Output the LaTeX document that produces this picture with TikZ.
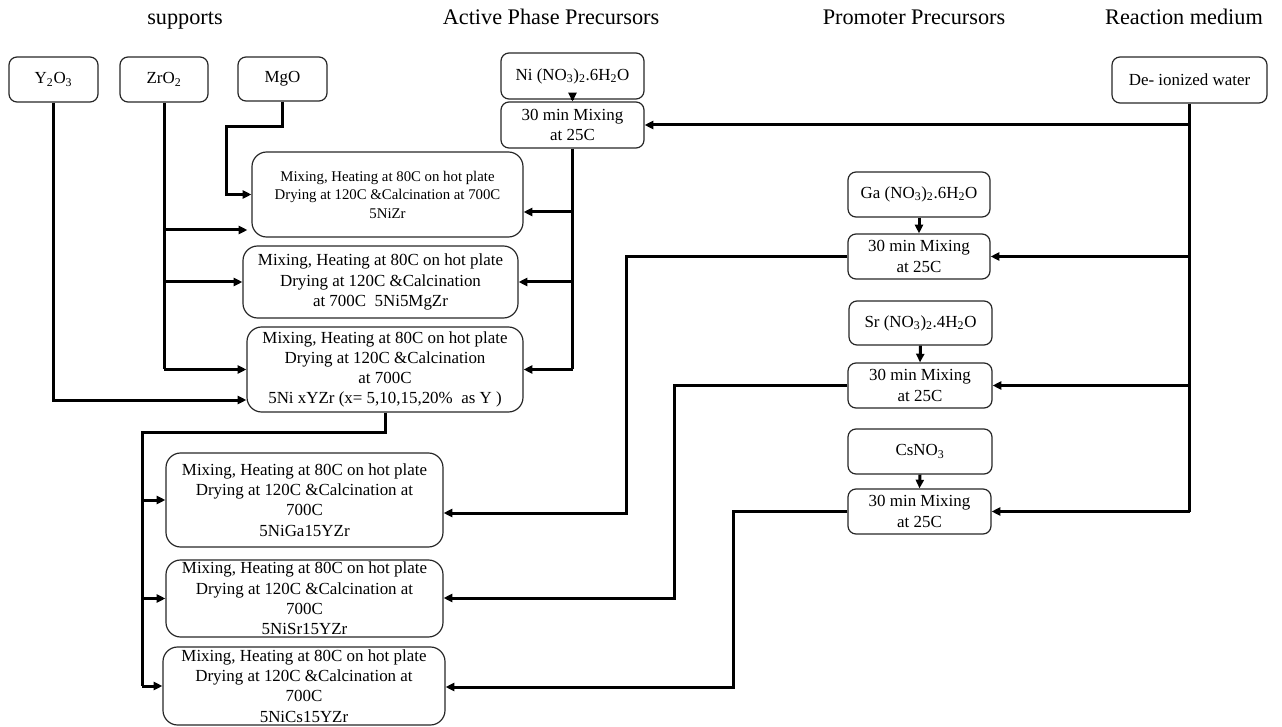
\documentclass[tikz,border=0pt]{standalone}
\usepackage{fontspec}
\setmainfont{Liberation Serif}
\usetikzlibrary{arrows.meta}
\begin{document}
\begin{tikzpicture}[x=0.75pt,y=-0.75pt,
  bx/.style 2 args={draw=black!85, line width=0.9pt, rounded corners=6pt,
    minimum width=#1*0.75pt, minimum height=#2*0.75pt, inner sep=0pt,
    align=center, font=\fontsize{12.7}{15.2}\selectfont},
  big/.style={rounded corners=11pt},
  conn/.style={line width=2.25pt},
  arr/.style={conn, -{Triangle[length=6.5pt,width=6pt]}},
  hdr/.style={font=\fontsize{16.7}{20}\selectfont, inner sep=0pt, anchor=base}
]
\useasboundingbox (0,0) rectangle (1282,727);

% headers
\node[hdr] (h1) at (185,25) {supports};
\node[hdr] (h2) at (551,25) {Active Phase Precursors};
\node[hdr] (h3) at (914,25) {Promoter Precursors};
\node[hdr] (h4) at (1184,25) {Reaction medium};

% supports
\node[bx={89}{45}] (y2o3) at (53.5,79.5) {Y\textsubscript{2}O\textsubscript{3}};
\node[bx={88}{45}] (zro2) at (164,79.5) {ZrO\textsubscript{2}};
\node[bx={89}{44}] (mgo) at (282.5,79) {MgO};

% active phase
\node[bx={143}{46}] (ni) at (572.5,76) {Ni (NO\textsubscript{3})\textsubscript{2}.6H\textsubscript{2}O};
\node[bx={143}{46}] (nimix) at (572.5,125) {30 min Mixing\\at 25C};

% promoters
\node[bx={142}{45}] (ga) at (919,194.5) {Ga (NO\textsubscript{3})\textsubscript{2}.6H\textsubscript{2}O};
\node[bx={142}{45}] (gamix) at (919,256.5) {30 min Mixing\\at 25C};
\node[bx={143}{44}] (sr) at (920.5,323) {Sr (NO\textsubscript{3})\textsubscript{2}.4H\textsubscript{2}O};
\node[bx={144}{45}] (srmix) at (920,385.5) {30 min Mixing\\at 25C};
\node[bx={144}{45}] (cs) at (920,451.5) {CsNO\textsubscript{3}};
\node[bx={143}{45}] (csmix) at (919.5,511.5) {30 min Mixing\\at 25C};

% medium
\node[bx={155}{46}] (water) at (1189.5,80) {De- ionized water};

% catalysts
\node[bx={271}{85}, big, font=\fontsize{11.1}{13.9}\selectfont] (nizr) at (387.5,194.5)
  {Mixing, Heating at 80C\ on hot plate\\Drying at 120C \&Calcination at 700C\\5NiZr};
\node[bx={275}{72}, big] (nimg) at (380.5,282)
  {Mixing, Heating at 80C\ on hot plate\\Drying at 120C \&Calcination\\at 700C\ \ 5Ni5MgZr};
\node[bx={276}{85}, big] (niy) at (385,369.5)
  {\raisebox{2.2pt}{\begin{tabular}{@{}c@{}}Mixing, Heating at 80C on hot plate\\Drying at 120C \&Calcination\\at 700C\\5Ni xYZr (x= 5,10,15,20\%\ \ as Y )\end{tabular}}};
\node[bx={277}{94}, big] (niga) at (304.5,500)
  {Mixing, Heating at 80C on hot plate\\Drying at 120C \&Calcination at\\700C\\5NiGa15YZr};
\node[bx={277}{77}, big] (nisr) at (304.5,598.5)
  {Mixing, Heating at 80C on hot plate\\Drying at 120C \&Calcination at\\700C\\5NiSr15YZr};
\node[bx={282}{78}, big] (nics) at (304,686)
  {Mixing, Heating at 80C on hot plate\\Drying at 120C \&Calcination at\\700C\\5NiCs15YZr};

% helper coordinates
\coordinate (yzr1) at (0,230);
\coordinate (yni1) at (0,212);
\coordinate (mgA) at (226,127);
\coordinate (yy) at (0,400);
\coordinate (bl) at (142,432);
\coordinate (gv) at (626,513);
\coordinate (sv) at (674,598);
\coordinate (cv) at (733,687);

% water trunk
\draw[conn] (water.south) -- (water.south |- csmix.east);
\draw[arr] (water.south |- nimix.east) -- (nimix.east);
\draw[arr] (water.south |- gamix.east) -- (gamix.east);
\draw[arr] (water.south |- srmix.east) -- (srmix.east);
\draw[arr] (water.south |- csmix.east) -- (csmix.east);

% precursor to mixing
\draw[arr] (ni.south) -- (nimix.north);
\draw[arr] (ga.south) -- (gamix.north);
\draw[arr] (sr.south) -- (srmix.north);
\draw[arr] (cs.south) -- (csmix.north);

% Ni trunk
\draw[conn] (nimix.south) -- (nimix.south |- niy.east);
\draw[arr] (nimix.south |- yni1) -- (nizr.east |- yni1);
\draw[arr] (nimix.south |- nimg.east) -- (nimg.east);
\draw[arr] (nimix.south |- niy.east) -- (niy.east);

% ZrO2 trunk
\draw[conn] (zro2.south) -- (zro2.south |- niy.west);
\draw[arr, shorten >=3pt] (zro2.south |- yzr1) -- (nizr.west |- yzr1);
\draw[arr] (zro2.south |- nimg.west) -- (nimg.west);
\draw[arr] (zro2.south |- niy.west) -- (niy.west);

% MgO
\draw[arr] (mgo.south) |- (mgA) |- (nizr.west);

% Y2O3
\draw[arr] (y2o3.south) |- (niy.west |- yy);

% xYZr to promoted catalysts
\draw[conn] (niy.south) |- (bl) -- (bl |- nics.west);
\draw[arr] (bl |- niga.west) -- (niga.west);
\draw[arr] (bl |- nisr.west) -- (nisr.west);
\draw[arr] (bl |- nics.west) -- (nics.west);

% promoter mixes to catalysts
\draw[arr] (gamix.west) -| (gv) -- (niga.east |- gv);
\draw[arr] (srmix.west) -| (sv) -- (nisr.east |- sv);
\draw[arr] (csmix.west) -| (cv) -- (nics.east |- cv);
\end{tikzpicture}
\end{document}
